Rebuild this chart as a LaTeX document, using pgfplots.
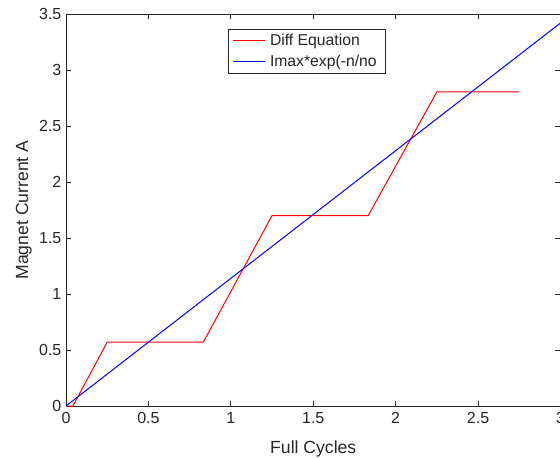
\documentclass[border=0pt]{standalone}
\usepackage{pgfplots}
\pgfplotsset{compat=1.18}
\usepackage{fontspec}
\setmainfont{Liberation Sans}
\definecolor{axgray}{RGB}{38,38,38}
\begin{document}
\begin{tikzpicture}[x=1pt,y=1pt]
\begin{axis}[
  at={(49.5pt,38.25pt)}, anchor=south west,
  scale only axis, width=370.9pt, height=294pt,
  xmin=0, xmax=3, ymin=0, ymax=3.5,
  xtick={0,0.5,...,3}, ytick={0,0.5,...,3.5},
  tick align=inside, major tick length=4pt,
  axis line style={axgray, line width=0.6pt},
  every tick/.style={axgray, line width=0.6pt},
  tick label style={font=\fontsize{12}{14}\selectfont, text=axgray},
  /pgf/number format/assume math mode=true,
  label style={font=\fontsize{13.2}{15}\selectfont, text=axgray},
  xlabel={Full Cycles}, ylabel={Magnet Current A},
  xticklabel style={yshift=-1pt},
  xlabel style={yshift=-6pt},
  ylabel style={yshift=-1.5pt},
  legend style={at={(0.3276,0.961)}, anchor=north west, draw=axgray, line width=0.5pt,
    font=\fontsize{11.8}{13}\selectfont, text=axgray, inner xsep=3pt, inner ysep=1.5pt, row sep=1.5pt,
    legend cell align=left, nodes={inner xsep=3.5pt}},
  legend image code/.code={\draw[#1] (0pt,0pt) -- (24pt,0pt);},
]
\addplot[red, line width=0.75pt] coordinates {
(0,0) (0.042,0) (0.25,0.57) (0.833,0.57) (1.25,1.70) (1.833,1.70) (2.25,2.805) (2.75,2.805)};
\addlegendentry{Diff Equation}
\addplot[blue, line width=0.75pt] coordinates {(0,0) (3,3.42)};
\addlegendentry{Imax*exp(-n/no}
\end{axis}
\pgfresetboundingbox
\path[use as bounding box] (0,0) rectangle (420pt,342.75pt);
\end{tikzpicture}
\end{document}
